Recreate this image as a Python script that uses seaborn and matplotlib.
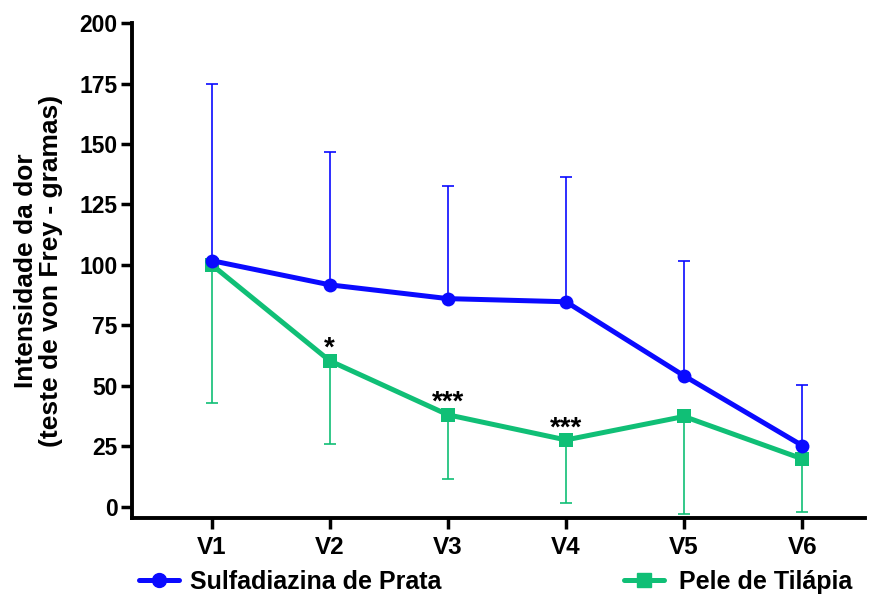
import numpy as np
import pandas as pd
import matplotlib
matplotlib.use('Agg')
import matplotlib.pyplot as plt
from matplotlib.lines import Line2D
import seaborn as sns

# Data
visits = ['V1', 'V2', 'V3', 'V4', 'V5', 'V6']
sulfa_mean = [101.8, 91.8, 86.1, 84.8, 54.2, 25.4]
sulfa_upper = [174.6, 146.7, 132.8, 136.5, 101.8, 50.2]
tilapia_mean = [100.1, 60.4, 38.1, 27.7, 37.4, 19.9]
tilapia_lower = [42.9, 25.9, 11.6, 1.8, -2.9, -2.2]
stars = ['', '*', '***', '***', '', '']

sulfa_name = 'Sulfadiazina de Prata'
tilapia_name = 'Pele de Tilápia'
blue = '#0a0aff'
green = '#10bf76'

sns.set_style('ticks')
plt.rcParams['font.family'] = ['Liberation Sans', 'DejaVu Sans']
plt.rcParams['font.weight'] = 'bold'
plt.rcParams['text.color'] = 'black'
plt.rcParams['axes.labelcolor'] = 'black'
plt.rcParams['xtick.color'] = 'black'
plt.rcParams['ytick.color'] = 'black'
plt.rcParams['axes.edgecolor'] = 'black'

x = np.arange(1, len(visits) + 1)
df = pd.DataFrame({
    'x': np.concatenate([x, x]),
    'valor': sulfa_mean + tilapia_mean,
    'grupo': [sulfa_name] * len(x) + [tilapia_name] * len(x),
})

fig = plt.figure(figsize=(8.7, 5.96), dpi=100)
ax = fig.add_axes([0.1514, 0.1309, 0.8426, 0.8305])

# error bars (one-sided)
t_err = np.array(tilapia_mean) - np.array(tilapia_lower)
ax.errorbar(x, tilapia_mean, yerr=[t_err, np.zeros(len(x))], fmt='none',
            ecolor=green, elinewidth=1.2, capsize=4.6, capthick=1.2, zorder=2, clip_on=False)
s_err = np.array(sulfa_upper) - np.array(sulfa_mean)
ax.errorbar(x, sulfa_mean, yerr=[np.zeros(len(x)), s_err], fmt='none',
            ecolor=blue, elinewidth=1.2, capsize=4.6, capthick=1.2, zorder=3, clip_on=False)

sns.lineplot(data=df[df['grupo'] == tilapia_name], x='x', y='valor', color=green,
             marker='s', markersize=9.5, markeredgewidth=0, linewidth=3.6, ax=ax, zorder=4,
             legend=False)
sns.lineplot(data=df[df['grupo'] == sulfa_name], x='x', y='valor', color=blue,
             marker='o', markersize=10, markeredgewidth=0, linewidth=3.6, ax=ax, zorder=5,
             legend=False)

for xi, yi, s in zip(x, tilapia_mean, stars):
    if s:
        ax.text(xi, yi - 0.5, s, ha='center', va='bottom', fontsize=20, fontweight='bold')

ax.set_xlim(0.323, 6.53)
ax.set_ylim(-4.55, 200)
ax.set_xticks(x)
ax.set_xticklabels(visits, fontsize=17.5, fontweight='bold')
ax.set_yticks(np.arange(0, 201, 25))
ax.tick_params(axis='y', labelsize=16.5, width=2.5, length=8, pad=2)
ax.tick_params(axis='x', width=2.5, length=8, pad=5)
for lab in ax.get_yticklabels():
    lab.set_fontweight('bold')
ax.set_xlabel('')
ax.set_ylabel('Intensidade da dor\n(teste de von Frey - gramas)', fontsize=19,
              fontweight='bold', labelpad=12, linespacing=1.05)
ax.spines['top'].set_visible(False)
ax.spines['right'].set_visible(False)
ax.spines['left'].set_linewidth(2.8)
ax.spines['bottom'].set_linewidth(2.8)

h1 = [Line2D([], [], color=blue, marker='o', markersize=10, linewidth=3.6)]
h2 = [Line2D([], [], color=green, marker='s', markersize=9.5, linewidth=3.6)]
fig.legend(h1, [sulfa_name], loc='center left', bbox_to_anchor=(0.145, 0.024),
           frameon=False, handlelength=1.6, handletextpad=0.45, borderpad=0,
           prop={'size': 18, 'weight': 'bold'})
fig.legend(h2, [tilapia_name], loc='center left', bbox_to_anchor=(0.703, 0.024),
           frameon=False, handlelength=1.6, handletextpad=0.6, borderpad=0,
           prop={'size': 18, 'weight': 'bold'})

fig.savefig('out.png', dpi=100)
